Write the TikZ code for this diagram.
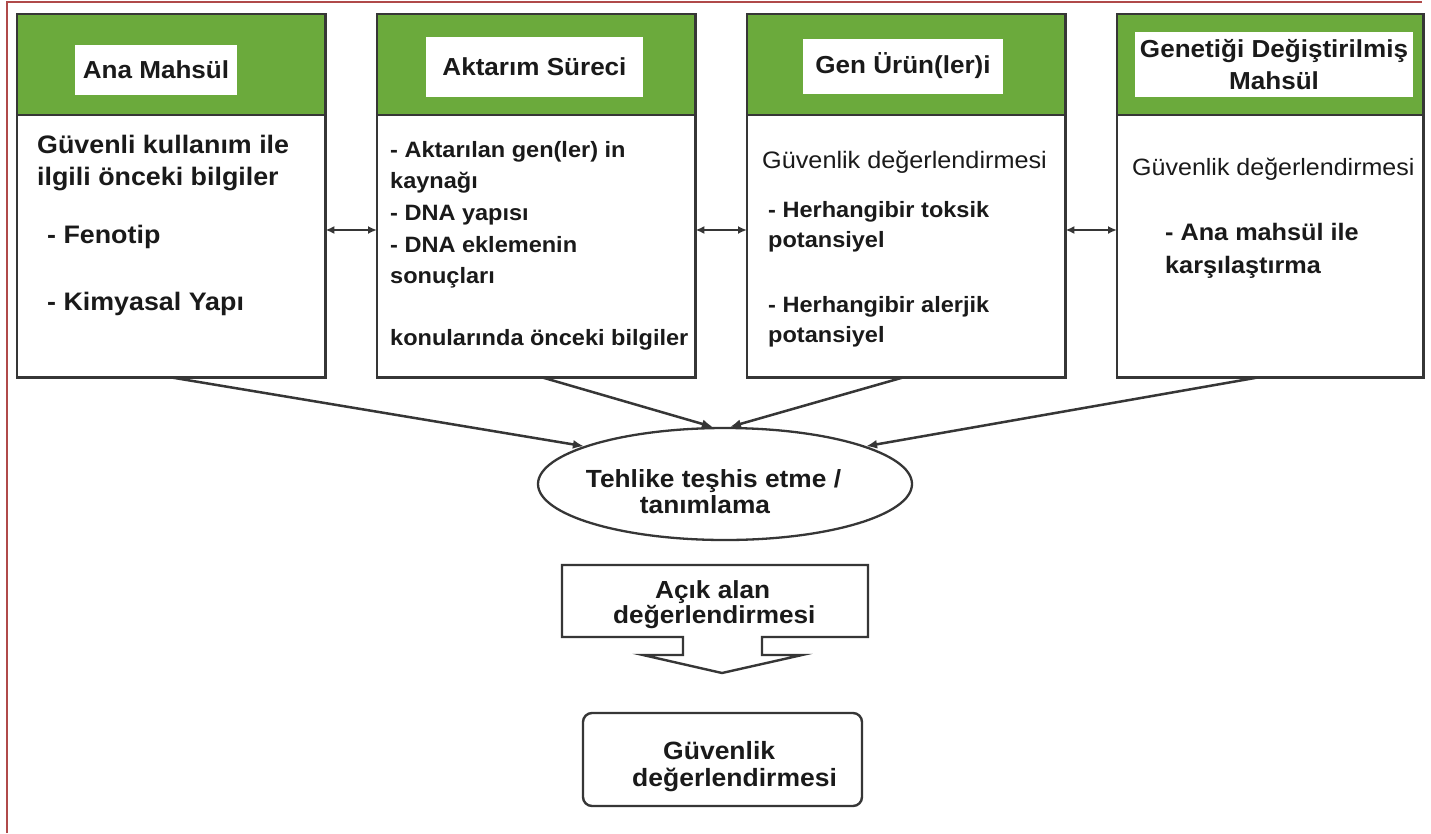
\documentclass[tikz,border=0pt]{standalone}
\usepackage{fontspec}
\setmainfont{Liberation Sans}[FakeStretch=1.06]
\usetikzlibrary{arrows.meta,shapes.geometric,calc}
\definecolor{hdrgreen}{HTML}{6BAA3C}
\definecolor{lineclr}{HTML}{363636}
\definecolor{ink}{HTML}{1A1A1A}
\definecolor{framered}{HTML}{B04A4A}
\newcommand\setfs[1]{\fontsize{#1}{#1}\selectfont}
\tikzset{
  panel/.style={rectangle, inner sep=0, minimum width=#1, minimum height=363,
    anchor=north west, fill=white},
  outline/.style={draw=lineclr, line width=2.6pt},
  tag/.style={rectangle, fill=white, inner sep=0, text=ink, align=center,
    font=\bfseries\fontsize{24.6}{32}\selectfont},
  ln/.style={inner sep=0, anchor=base west, text=ink, font=\bfseries\setfs{#1}},
  lnr/.style={inner sep=0, anchor=base west, text=ink, font=\setfs{#1}},
  lc/.style={inner sep=0, anchor=base, text=ink, font=\bfseries\setfs{#1}},
  dbl/.style={draw=lineclr, line width=2.3pt,
    {Latex[length=9pt,width=8pt]}-{Latex[length=9pt,width=8pt]}},
  toell/.style={draw=lineclr, line width=2.5pt, -{Latex[length=11pt,width=9pt]}},
}
\begin{document}
\begin{tikzpicture}[x=1pt,y=-1pt]
\useasboundingbox[fill=white] (0,0) rectangle (1431,833);

% page frame (left and top rules)
\draw[framered, line width=2pt] (7,833) -- (7,2) -- (1422,2);

% helper levels
\coordinate (hdr) at (0,115);
\coordinate (lv) at (0,230);

% the four panels
\node[panel=308] (b1) at (17,14) {};
\node[panel=318] (b2) at (377,14) {};
\node[panel=318] (b3) at (747,14) {};
\node[panel=306] (b4) at (1117,14) {};
\foreach \b in {b1,b2,b3,b4}{
  \fill[hdrgreen] (\b.north west) rectangle (\b.east |- hdr);
  \draw[outline] (\b.west |- hdr) -- (\b.east |- hdr);
  \draw[outline] (\b.north west) rectangle (\b.south east);
}

% header labels
\node[tag, minimum width=162, minimum height=50] (t1) at (156,70) {Ana Mahsül};
\node[tag, minimum width=217, minimum height=60] (t2) at (534.5,67) {Aktarım Süreci};
\node[tag, minimum width=200, minimum height=55] (t3) at (903,66) {Gen Ürün(ler)i};
\node[tag, minimum width=278, minimum height=65] (t4) at (1274,64.5) {Genetiği Değiştirilmiş\\Mahsül};

% panel 1 text
\node[ln=25.3] (p1a) at (37,153) {Güvenli kullanım ile};
\node[ln=25.3] (p1b) at (37,185) {ilgili önceki bilgiler};
\node[ln=25.3] (p1c) at (47,243) {- Fenotip};
\node[ln=25.3] (p1d) at (47,310) {- Kimyasal Yapı};

% panel 2 text
\node[ln=22.2] (p2a) at (390,157) {- Aktarılan gen(ler) in};
\node[ln=22.2] (p2b) at (390,188) {kaynağı};
\node[ln=22.2] (p2c) at (390,220) {- DNA yapısı};
\node[ln=22.2] (p2d) at (390,252) {- DNA eklemenin};
\node[ln=22.2] (p2e) at (390,283) {sonuçları};
\node[ln=22.2] (p2f) at (390,345) {konularında önceki bilgiler};

% panel 3 text
\node[lnr=23.8] (p3a) at (762,168) {Güvenlik değerlendirmesi};
\node[ln=22.2] (p3b) at (768,217) {- Herhangibir toksik};
\node[ln=22.2] (p3c) at (768,247) {potansiyel};
\node[ln=22.2] (p3d) at (768,312) {- Herhangibir alerjik};
\node[ln=22.2] (p3e) at (768,342) {potansiyel};

% panel 4 text
\node[lnr=23.6] (p4a) at (1132,175) {Güvenlik değerlendirmesi};
\node[ln=23.8] (p4b) at (1165,240) {- Ana mahsül ile};
\node[ln=23.8] (p4c) at (1165,273) {karşılaştırma};

% links between neighbouring panels
\draw[dbl] (b1.east |- lv) -- (b2.west |- lv);
\draw[dbl] (b2.east |- lv) -- (b3.west |- lv);
\draw[dbl] (b3.east |- lv) -- (b4.west |- lv);

% hazard identification
\node[ellipse, draw=lineclr, line width=2.3pt, inner sep=0,
      minimum width=374, minimum height=112] (haz) at (725,484) {};
\node[lc=24.8] (hz1) at (713.5,487) {Tehlike teşhis etme /};
\node[lc=24.8] (hz2) at (705,513) {tanımlama};

\draw[toell] (b1.south) -- (haz.165);
\draw[toell] ([xshift=6pt]b2.south) -- (haz.102);
\draw[toell] ([xshift=-3pt]b3.south) -- (haz.85);
\draw[toell] ([xshift=-12pt]b4.south) -- (haz.15);

% field assessment with downward arrow outline
\draw[draw=lineclr, line width=2.4pt, fill=white, line join=miter]
  (562,565) -- (868,565) -- (868,637) -- (762,637) -- (762,655) -- (802,655)
  -- (722,673) -- (643,655) -- (683,655) -- (683,637) -- (562,637) -- cycle;
\node[ln=24.7] (fa1) at (655,598) {Açık alan};
\node[ln=24.7] (fa2) at (613,623) {değerlendirmesi};

% final safety assessment
\node[rectangle, rounded corners=9pt, draw=lineclr, line width=2.4pt,
      minimum width=279, minimum height=93, inner sep=0] (saf) at (722.5,759.5) {};
\node[ln=25] (sf1) at (663,759) {Güvenlik};
\node[ln=25] (sf2) at (632,786) {değerlendirmesi};
\end{tikzpicture}
\end{document}
